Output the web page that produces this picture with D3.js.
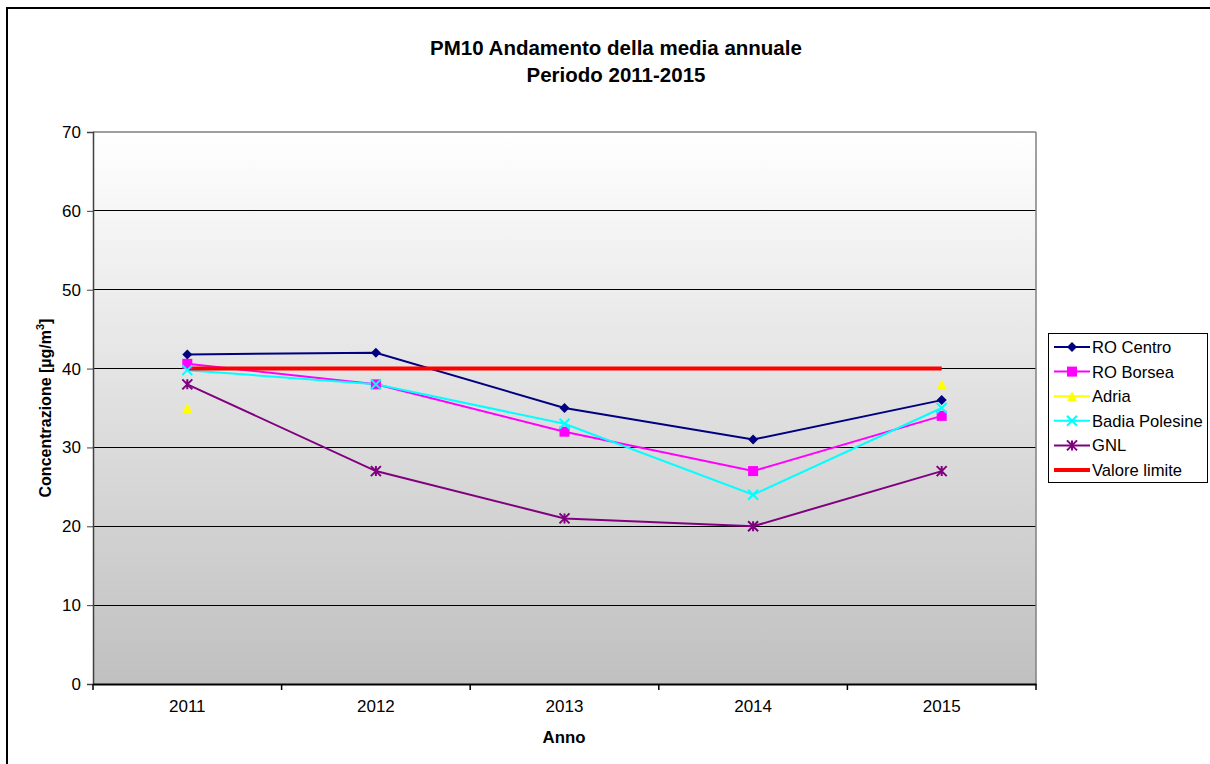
<!DOCTYPE html>
<html><head><meta charset="utf-8">
<script src="https://cdn.jsdelivr.net/npm/d3@7"></script>
<style>body{margin:0;background:#fff}svg{display:block;font-family:Arial,"Liberation Sans",sans-serif}</style>
</head><body><svg id="c" width="1210" height="764"></svg>
<script>
const years = ["2011","2012","2013","2014","2015"];
const roCentro = [41.8, 42, 35, 31, 36];
const roBorsea = [40.6, 38, 32, 27, 34];
const adria = [35, null, null, null, 38];
const badia = [39.8, 38, 33, 24, 35];
const gnl = [38, 27, 21, 20, 27];
const limite = [40, 40, 40, 40, 40];
const yTicks = [0,10,20,30,40,50,60,70];
const seriesNames = ["RO Centro","RO Borsea","Adria","Badia Polesine","GNL","Valore limite"];

const series = [
  {name:seriesNames[0], values:roCentro, color:"#000080", marker:"diamond"},
  {name:seriesNames[1], values:roBorsea, color:"#ff00ff", marker:"square"},
  {name:seriesNames[2], values:adria, color:"#ffff00", marker:"triangle"},
  {name:seriesNames[3], values:badia, color:"#00ffff", marker:"x"},
  {name:seriesNames[4], values:gnl, color:"#800080", marker:"star"},
  {name:seriesNames[5], values:limite, color:"#ff0000", marker:null, width:4}
];

const FONT = "Arial, 'Liberation Sans', sans-serif";
const svg = d3.select("#c");
const L=93, R=1036, T=132, B=684;

// outer frame
svg.append("rect").attr("x",7).attr("y",8).attr("width",1220).attr("height",780)
  .attr("fill","#fff").attr("stroke","#000").attr("stroke-width",2);

const defs = svg.append("defs");
const g = defs.append("linearGradient").attr("id","bg").attr("x1",0).attr("y1",0).attr("x2",0).attr("y2",1);
g.append("stop").attr("offset","0%").attr("stop-color","#ffffff");
g.append("stop").attr("offset","100%").attr("stop-color","#c0c0c0");

const x = d3.scaleBand().domain(years).range([L,R]);
const y = d3.scaleLinear().domain([0,70]).range([B,T]);

svg.append("rect").attr("x",L).attr("y",T).attr("width",R-L).attr("height",B-T).attr("fill","url(#bg)");

// gridlines
svg.append("g").selectAll("line").data(yTicks.filter(d=>d>0&&d<70)).join("line")
  .attr("x1",L).attr("x2",R).attr("y1",d=>y(d)).attr("y2",d=>y(d))
  .attr("stroke","#000").attr("stroke-width",1).attr("shape-rendering","crispEdges");
// top & right border
svg.append("line").attr("x1",L).attr("x2",R).attr("y1",T).attr("y2",T).attr("stroke","#808080").attr("stroke-width",1.5);
svg.append("line").attr("x1",R).attr("x2",R).attr("y1",T).attr("y2",B).attr("stroke","#808080").attr("stroke-width",1.5);

// y axis
const yAxis = d3.axisLeft(y).tickValues(yTicks).tickSize(6).tickPadding(6);
const ya = svg.append("g").attr("transform",`translate(${L},0)`).call(yAxis);
ya.select(".domain").attr("stroke","#404040").attr("stroke-width",1.5);
ya.selectAll(".tick line").attr("stroke","#404040");
ya.selectAll("text").attr("font-size",17).attr("fill","#000").attr("font-family",FONT);

// x axis
const xAxis = d3.axisBottom(x).tickSize(0).tickPadding(16);
const xa = svg.append("g").attr("transform",`translate(0,${B})`).call(xAxis);
xa.select(".domain").attr("stroke","#000").attr("stroke-width",2);
xa.selectAll("text").attr("font-size",17).attr("fill","#000").attr("font-family",FONT);
// boundary ticks
const bounds = years.map(d=>x(d)).concat([R]);
svg.append("g").selectAll("line").data(bounds).join("line")
  .attr("x1",d=>d).attr("x2",d=>d).attr("y1",B).attr("y2",B+6).attr("stroke","#000").attr("stroke-width",1.5);

const cx = d=>x(d)+x.bandwidth()/2;

function marker(sel, type, color, s){
  s = s||5;
  if(type==="diamond") sel.append("path").attr("d",`M0,${-s}L${s},0L0,${s}L${-s},0Z`).attr("fill",color);
  else if(type==="square") sel.append("rect").attr("x",-s).attr("y",-s).attr("width",2*s).attr("height",2*s).attr("fill",color);
  else if(type==="triangle") sel.append("path").attr("d",`M0,${-s}L${s},${s}L${-s},${s}Z`).attr("fill",color);
  else if(type==="x") sel.append("path").attr("d",`M${-s},${-s}L${s},${s}M${-s},${s}L${s},${-s}`).attr("stroke",color).attr("stroke-width",2);
  else if(type==="star") sel.append("path").attr("d",`M${-s},${-s}L${s},${s}M${-s},${s}L${s},${-s}M0,${-s}L0,${s}`).attr("stroke",color).attr("stroke-width",2);
}

const plot = svg.append("g");
series.forEach(s=>{
  const pts = years.map((yr,i)=>({yr, v:s.values[i]}));
  const line = d3.line().defined(d=>d.v!=null).x(d=>cx(d.yr)).y(d=>y(d.v));
  plot.append("path").datum(pts).attr("d",line).attr("fill","none")
    .attr("stroke",s.color).attr("stroke-width",s.width||2);
});
series.forEach(s=>{
  if(!s.marker) return;
  years.forEach((yr,i)=>{
    if(s.values[i]==null) return;
    const m = plot.append("g").attr("transform",`translate(${cx(yr)},${y(s.values[i])})`);
    marker(m, s.marker, s.color, 5);
  });
});

// title
svg.append("text").attr("x",616).attr("y",55).attr("text-anchor","middle").attr("font-size",20.5).attr("font-weight","bold").text("PM10 Andamento della media annuale");
svg.append("text").attr("x",616).attr("y",82).attr("text-anchor","middle").attr("font-size",20.5).attr("font-weight","bold").text("Periodo 2011-2015");

// axis titles
svg.append("text").attr("x",564).attr("y",743).attr("text-anchor","middle").attr("font-size",16.8).attr("font-weight","bold").text("Anno");
const yt = svg.append("text").attr("transform","translate(51,408) rotate(-90)").attr("text-anchor","middle").attr("font-size",16).attr("font-weight","bold");
yt.append("tspan").text("Concentrazione [µg/m");
yt.append("tspan").attr("font-size",11).attr("dy",-7).text("3");
yt.append("tspan").attr("dy",7).text("]");

// legend
const lg = svg.append("g");
lg.append("rect").attr("x",1048.5).attr("y",333.5).attr("width",159).attr("height",149).attr("fill","#fff").attr("stroke","#000").attr("stroke-width",1);
series.forEach((s,i)=>{
  const yy = 347 + i*24.6;
  lg.append("line").attr("x1",1054).attr("x2",1090).attr("y1",yy).attr("y2",yy).attr("stroke",s.color).attr("stroke-width",s.width||2);
  if(s.marker){ const m = lg.append("g").attr("transform",`translate(1072,${yy})`); marker(m,s.marker,s.color,5); }
  lg.append("text").attr("x",1092).attr("y",yy+6).attr("font-size",16.6).text(s.name);
});
</script></body></html>
